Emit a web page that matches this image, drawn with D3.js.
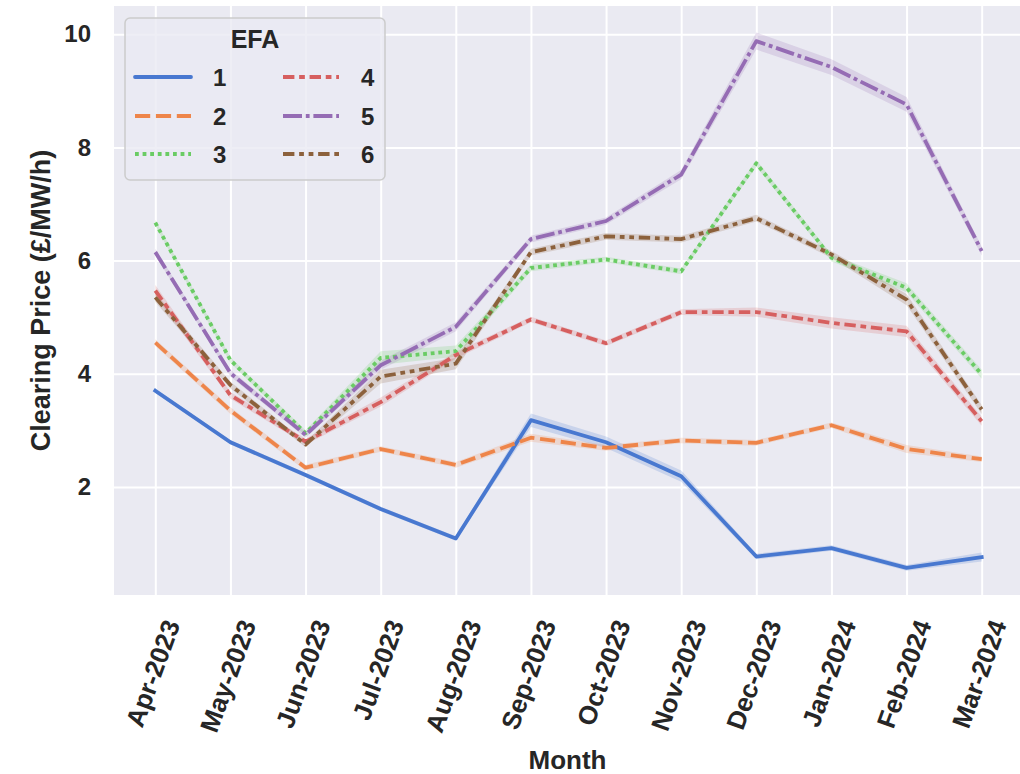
<!DOCTYPE html>
<html>
<head>
<meta charset="utf-8">
<script src="https://cdn.jsdelivr.net/npm/d3@7"></script>
<style>
  html, body { margin: 0; padding: 0; background: #ffffff; }
  svg { display: block; }
  text { font-family: "Liberation Sans", Arial, Helvetica, sans-serif; font-weight: bold; fill: #262626; }
</style>
</head>
<body>
<svg id="chart" width="1020" height="774"></svg>
<script>
// ---- Data ----
const months = ["Apr-2023","May-2023","Jun-2023","Jul-2023","Aug-2023","Sep-2023",
                "Oct-2023","Nov-2023","Dec-2023","Jan-2024","Feb-2024","Mar-2024"];
const efaNames = ["1","2","3","4","5","6"];
const yTicks = [2,4,6,8,10];

const efa1 = [3.70,2.79,2.21,1.61,1.09,3.18,2.79,2.19,0.77,0.92,0.57,0.76];
const efa2 = [4.55,3.35,2.34,2.67,2.39,2.87,2.69,2.82,2.78,3.09,2.67,2.49];
const efa3 = [6.67,4.24,2.95,4.28,4.40,5.87,6.02,5.81,7.72,6.05,5.52,3.99];
const efa4 = [5.47,3.62,2.80,3.50,4.33,4.96,4.54,5.09,5.09,4.90,4.75,3.16];
const efa5 = [6.15,4.01,2.92,4.15,4.83,6.38,6.70,7.52,9.88,9.42,8.76,6.17];
const efa6 = [5.35,3.80,2.75,3.95,4.18,6.15,6.43,6.38,6.75,6.11,5.31,3.37];

// half-width of the confidence band around each line
const ci1 = [0.04,0.04,0.04,0.04,0.04,0.12,0.10,0.10,0.05,0.05,0.05,0.08];
const ci2 = [0.06,0.06,0.05,0.05,0.05,0.07,0.05,0.05,0.05,0.05,0.07,0.05];
const ci3 = [0.05,0.05,0.05,0.12,0.10,0.06,0.05,0.05,0.06,0.06,0.08,0.08];
const ci4 = [0.10,0.06,0.05,0.08,0.06,0.05,0.05,0.05,0.08,0.10,0.10,0.08];
const ci5 = [0.06,0.06,0.05,0.08,0.08,0.06,0.06,0.08,0.15,0.14,0.13,0.08];
const ci6 = [0.08,0.06,0.05,0.12,0.10,0.06,0.06,0.06,0.06,0.06,0.10,0.08];

const seriesValues = [efa1, efa2, efa3, efa4, efa5, efa6];
const seriesCI = [ci1, ci2, ci3, ci4, ci5, ci6];

// ---- Styles ----
const colors = ["#4878d0","#ee854a","#6acc64","#d65f5f","#956cb4","#8c613c"];
const lw = 3.8;
const dashUnits = [null, [4,1.5], [1,1], [3,1.25,1.5,1.25], [5,1,1,1], [3,1.25,1.25,1.25,1.25,1.25]];
const dashArr = dashUnits.map(d => d ? d.map(v => v * lw).join(",") : null);

// ---- Layout ----
const svg = d3.select("#chart");
const L = 114, R = 1023, T = 6, B = 595;

const x = d3.scaleLinear().domain([-0.55, months.length - 1 + 0.55]).range([L, R]);
const y = d3.scaleLinear().domain([0.09, 10.5]).range([B, T]);

svg.append("defs").append("clipPath").attr("id", "plotclip")
  .append("rect").attr("x", L).attr("y", T).attr("width", R - L).attr("height", B - T);

// background
svg.append("rect").attr("x", L).attr("y", T).attr("width", R - L).attr("height", B - T)
  .attr("fill", "#eaeaf2");

const grid = svg.append("g").attr("clip-path", "url(#plotclip)");
grid.append("g")
  .attr("transform", `translate(0,${B})`)
  .call(d3.axisBottom(x).tickValues(d3.range(months.length)).tickSize(-(B - T)).tickFormat(""))
  .call(g => g.select(".domain").remove())
  .call(g => g.selectAll("line").attr("stroke", "#ffffff").attr("stroke-width", 2));
grid.append("g")
  .attr("transform", `translate(${L},0)`)
  .call(d3.axisLeft(y).tickValues(yTicks).tickSize(-(R - L)).tickFormat(""))
  .call(g => g.select(".domain").remove())
  .call(g => g.selectAll("line").attr("stroke", "#ffffff").attr("stroke-width", 2));

// y tick labels
const yAx = svg.append("g").attr("transform", `translate(${L},0)`)
  .call(d3.axisLeft(y).tickValues(yTicks).tickSize(0).tickPadding(23).tickFormat(d3.format("d")));
yAx.select(".domain").remove();
yAx.selectAll("text").style("font-size", "24px").attr("fill", "#262626")
  .style("font-family", "'Liberation Sans', Arial, sans-serif").style("font-weight", "bold");

// x tick labels (rotated)
const xAx = svg.append("g").attr("transform", `translate(0,${B})`)
  .call(d3.axisBottom(x).tickValues(d3.range(months.length)).tickSize(0).tickFormat(i => months[i]));
xAx.select(".domain").remove();
const ang = 70 * Math.PI / 180;
xAx.selectAll("text")
  .style("font-size", "26px").attr("fill", "#262626")
  .style("font-family", "'Liberation Sans', Arial, sans-serif").style("font-weight", "bold")
  .attr("text-anchor", "middle").attr("dy", "0.35em").attr("y", 0)
  .each(function() {
    const len = this.getComputedTextLength();
    const h = len * Math.sin(ang) + 18 * Math.cos(ang);
    d3.select(this).attr("transform", `translate(-3,${23 + h / 2}) rotate(-70)`);
  });

// axis titles
svg.append("text").attr("x", (L + R) / 2 - 1).attr("y", 769).attr("text-anchor", "middle")
  .style("font-size", "26px").text("Month");
svg.append("text").attr("transform", `translate(50,${(T + B) / 2}) rotate(-90)`)
  .attr("text-anchor", "middle").style("font-size", "27px").text("Clearing Price (£/MW/h)");

// ---- Bands and lines ----
const plot = svg.append("g").attr("clip-path", "url(#plotclip)");
const area = d3.area().x((d, i) => x(i)).y0(d => y(d.lo)).y1(d => y(d.hi));
const line = d3.line().x((d, i) => x(i)).y(d => y(d));

seriesValues.forEach((vals, s) => {
  const band = vals.map((v, i) => ({ lo: v - seriesCI[s][i], hi: v + seriesCI[s][i] }));
  plot.append("path").attr("d", area(band)).attr("fill", colors[s]).attr("fill-opacity", 0.2);
});
seriesValues.forEach((vals, s) => {
  const p = plot.append("path").attr("d", line(vals))
    .attr("fill", "none").attr("stroke", colors[s]).attr("stroke-width", lw)
    .attr("stroke-linejoin", "round");
  if (dashArr[s]) p.attr("stroke-dasharray", dashArr[s]).attr("stroke-linecap", "butt");
  else p.attr("stroke-linecap", "square");
});

// ---- Legend ----
const leg = svg.append("g");
leg.append("rect").attr("x", 125).attr("y", 18).attr("width", 260).attr("height", 162)
  .attr("rx", 5).attr("fill", "#eaeaf2").attr("fill-opacity", 0.8)
  .attr("stroke", "#cccccc").attr("stroke-width", 1.5);
leg.append("text").attr("x", 255).attr("y", 48).attr("text-anchor", "middle")
  .style("font-size", "25px").text("EFA");
const colX = [135, 283];
const rowY = [77, 116, 154];
efaNames.forEach((name, s) => {
  const c = Math.floor(s / 3), r = s % 3;
  const x0 = colX[c];
  const ln = leg.append("line").attr("x1", x0).attr("x2", x0 + 56)
    .attr("y1", rowY[r]).attr("y2", rowY[r])
    .attr("stroke", colors[s]).attr("stroke-width", lw);
  if (dashArr[s]) ln.attr("stroke-dasharray", dashArr[s]);
  else ln.attr("stroke-linecap", "round");
  leg.append("text").attr("x", x0 + 78).attr("y", rowY[r] + 9)
    .style("font-size", "24px").text(name);
});
</script>
</body>
</html>
